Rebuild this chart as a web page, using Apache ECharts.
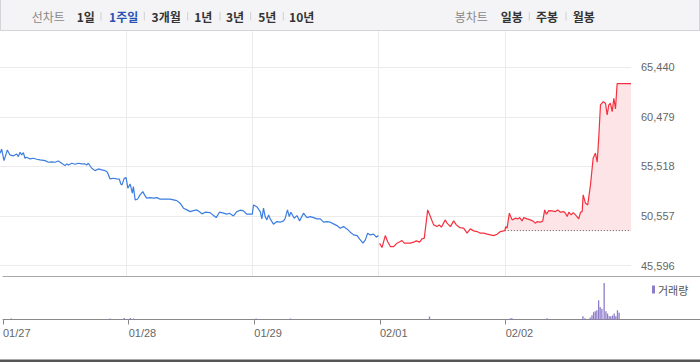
<!DOCTYPE html>
<html><head><meta charset="utf-8">
<script src="https://cdn.jsdelivr.net/npm/echarts@6/dist/echarts.min.js"></script>
<style>html,body{margin:0;padding:0;background:#fff}#c{width:700px;height:362px}</style>
</head><body><div id="c"></div>
<script>
// ---- data ----
const dateLabels = ['01/27', '01/28', '01/29', '02/01', '02/02'];
const priceTicks = [45596, 50557, 55518, 60479, 65440];
const prevClose = 49100;

// days 1-3 (blue), time in trading-day units
const blueTimes = [0.000,0.013,0.032,0.058,0.079,0.105,0.132,0.145,0.159,0.172,0.185,0.198,0.212,0.238,0.264,0.291,0.317,0.357,0.383,0.410,0.436,0.462,0.489,0.515,0.529,0.542,0.569,0.595,0.621,0.648,0.674,0.688,0.700,0.727,0.753,0.780,0.806,0.833,0.851,0.872,0.898,0.925,0.946,0.957,0.967,0.983,0.999,
1.013,1.031,1.049,1.057,1.071,1.089,1.110,1.132,1.150,1.163,1.190,1.216,1.243,1.269,1.308,1.348,1.401,1.427,1.454,1.481,1.507,1.533,1.560,1.586,1.600,1.626,1.665,1.692,1.713,1.739,1.771,1.798,1.818,1.850,1.877,1.903,1.929,1.956,1.983,1.999,
2.009,2.036,2.062,2.075,2.088,2.101,2.115,2.128,2.141,2.167,2.194,2.220,2.247,2.260,2.278,2.292,2.305,2.331,2.353,2.374,2.405,2.432,2.458,2.485,2.511,2.538,2.564,2.591,2.617,2.643,2.670,2.696,2.722,2.749,2.776,2.802,2.829,2.855,2.876,2.895,2.913,2.934,2.960,2.982,2.999];
const bluePrices = [56840,57240,56100,57170,56670,56570,56770,56500,56940,56670,56900,56340,56440,56270,56340,56240,56170,56100,55940,55970,55940,56070,55840,55600,55770,55670,55840,55740,55840,55770,55770,55670,55840,55340,55100,55270,55170,55100,54940,54270,54340,54270,54240,53770,53670,54300,54400,
53340,53770,52840,53500,52170,52240,52670,53000,52570,52340,52400,52340,52400,52240,52240,52240,52100,51840,51340,51170,51000,51100,51170,50940,50770,50940,50900,50600,50400,50940,50840,50740,50840,50570,51000,51140,51070,50740,50740,50740,
51670,51470,51000,50270,51340,50500,50170,50670,50270,49740,50000,49940,50070,50340,51170,50500,50940,50340,50600,50070,50840,50400,50500,50400,50270,50270,49940,50000,49940,49770,49600,49340,49500,49270,48940,48670,48600,48170,47840,48170,48840,48670,48740,48440,48600];

// day 4 (red)
const redTimes = [3.008,3.027,3.053,3.071,3.093,3.119,3.146,3.172,3.185,3.204,3.225,3.251,3.278,3.299,3.325,3.344,3.362,3.389,3.410,3.436,3.463,3.481,3.497,3.529,3.542,3.569,3.595,3.616,3.642,3.674,3.701,3.727,3.753,3.780,3.806,3.833,3.860,3.886,3.912,3.939,3.965,4.000];
const redPrices = [47840,47400,48600,48000,47500,47500,47840,48000,48100,47840,47840,47840,47940,48070,47940,48270,48340,51170,50500,49670,49500,49670,49440,50170,49840,49500,50070,49670,49400,49340,48840,49270,49070,49000,48840,48840,48740,48670,48600,48740,49000,49100];

// day 5 (today, red with fill)
const todayTimes = [4.000,4.007,4.018,4.036,4.058,4.084,4.102,4.118,4.137,4.150,4.177,4.203,4.229,4.243,4.256,4.282,4.301,4.316,4.330,4.348,4.375,4.401,4.420,4.441,4.467,4.481,4.494,4.507,4.526,4.542,4.560,4.586,4.600,4.613,4.621,4.639,4.657,4.679,4.700,4.718,4.732,4.745,4.758,4.780,4.798,4.811,4.824,4.837,4.851,4.864,4.877,4.890,5.000];
const todayPrices = [49100,49500,49340,50840,50170,50340,50270,50400,50070,50400,50270,50170,50000,49840,50000,49940,50070,51170,50740,51100,51070,51000,51170,50940,51000,50840,50500,50940,50670,50900,50670,50270,50940,51000,52670,51840,51670,53670,56340,56840,55940,58500,61670,62000,61840,60670,61670,61840,61000,62340,61270,63800,63800];

// volume
const volTimes = [0.066,0.851,0.965,1.013,1.039,2.014,2.286,3.394,4.039,4.050,4.330,4.615,4.631,4.673,4.687,4.700,4.713,4.726,4.740,4.752,4.766,4.784,4.798,4.811,4.824,4.837,4.851,4.864,4.877,4.890,4.903];
const volValues = [10,10,15,15,10,10,10,30,12,12,12,33,12,20,43,73,83,93,193,127,107,367,83,60,33,33,40,60,33,93,67];

// ---- chart ----
const zip = (ts, vs) => ts.map((t, i) => [t, vs[i]]);
const dayCount = dateLabels.length;
const plotRight = 69;
const volAxisMax = dayCount * 700 / (700 - plotRight);
const FONT = "'Liberation Sans','Noto Sans CJK KR',sans-serif";
const KFONT = "'Noto Sans CJK KR',sans-serif";

const tabItems = [
  {t:'선차트', x:48.3, c:'#888', b:false},
  {t:'1일', x:85.8, c:'#333', b:true},
  {t:'1주일', x:123.7, c:'#2a52b5', b:true},
  {t:'3개월', x:166.2, c:'#333', b:true},
  {t:'1년', x:203.3, c:'#333', b:true},
  {t:'3년', x:235, c:'#333', b:true},
  {t:'5년', x:267.3, c:'#333', b:true},
  {t:'10년', x:301.7, c:'#333', b:true},
  {t:'봉차트', x:471.3, c:'#888', b:false},
  {t:'일봉', x:511.7, c:'#333', b:true},
  {t:'주봉', x:547, c:'#333', b:true},
  {t:'월봉', x:583.7, c:'#333', b:true}
];
const sepXs = [101, 144.3, 187.7, 220, 250.7, 283.3, 529.3, 566];

const graphics = [
  {type:'rect', shape:{x:0.5, y:-1, width:699, height:31.5}, style:{fill:'#f4f4f6', stroke:'#d3d3d8', lineWidth:1}, silent:true},
  {type:'rect', shape:{x:0, y:359.5, width:700, height:2.5}, style:{fill:'#555'}, silent:true}
];
tabItems.forEach(it => graphics.push({
  type:'text', x: it.x, y: 16, silent:true,
  style:{text: it.t, fill: it.c, font: (it.b ? 'bold ' : '') + '12px ' + KFONT, textAlign:'center', textVerticalAlign:'middle'}
}));
sepXs.forEach(x => graphics.push({
  type:'line', silent:true, shape:{x1:x, y1:12, x2:x, y2:20.5}, style:{stroke:'#d0d0d0', lineWidth:1}
}));

const chart = echarts.init(document.getElementById('c'), null, {renderer:'svg'});
chart.setOption({
  animation: false,
  backgroundColor: '#fff',
  textStyle: {fontFamily: FONT},
  graphic: {elements: graphics},
  legend: {
    data: ['거래량'], left: 652, top: 284, padding: 0, icon: 'rect', itemWidth: 3, itemHeight: 8,
    itemGap: 4, textStyle: {fontSize: 11, color: '#555', fontFamily: KFONT, padding: [0,0,0,-2]}, selectedMode: false
  },
  grid: [
    {left: 0, right: plotRight, top: 31, bottom: 86},
    {left: 0, right: plotRight, top: 67.3, height: 198.3},
    {left: 0, right: 0, top: 276.5, bottom: 42.5}
  ],
  xAxis: [
    {gridIndex:0, type:'value', min:0, max:dayCount, interval:1, axisLine:{show:false}, axisTick:{show:false}, axisLabel:{show:false},
     splitLine:{show:true, showMinLine:false, showMaxLine:false, lineStyle:{color:'#ebebeb'}}},
    {gridIndex:1, type:'value', min:0, max:dayCount, show:false, splitLine:{show:false}},
    {gridIndex:2, type:'value', min:0, max:volAxisMax, position:'bottom',
     axisLine:{show:true, lineStyle:{color:'#888'}},
     axisTick:{show:true, length:5, lineStyle:{color:'#888'}, customValues: dateLabels.map((d,i)=>i)},
     axisLabel:{show:true, customValues: dateLabels.map((d,i)=>i), formatter: v => dateLabels[Math.round(v)] || '', align:'left', color:'#666', fontSize:11, margin:8},
     splitLine:{show:false}},
    {gridIndex:2, type:'value', min:0, max:volAxisMax, position:'top',
     axisLine:{show:true, lineStyle:{color:'#a8a8a8'}}, axisTick:{show:false}, axisLabel:{show:false}, splitLine:{show:false}}
  ],
  yAxis: [
    {gridIndex:0, type:'value', min:0, max:1, show:false, splitLine:{show:false}},
    {gridIndex:1, type:'value', position:'right', min: priceTicks[0], max: priceTicks[priceTicks.length-1],
     interval: priceTicks[1]-priceTicks[0],
     axisLine:{show:false}, axisTick:{show:false},
     axisLabel:{color:'#666', fontSize:11, margin:10, formatter: v => Math.round(v).toLocaleString('en-US')},
     splitLine:{show:true, lineStyle:{color:'#ebebeb'}}},
    {gridIndex:2, type:'value', min:0, max:433, show:false, splitLine:{show:false}}
  ],
  series: [
    {name:'blue', type:'line', xAxisIndex:1, yAxisIndex:1, data: zip(blueTimes, bluePrices), showSymbol:false,
     lineStyle:{color:'#3b7de0', width:1.2}, z:3},
    {name:'red', type:'line', xAxisIndex:1, yAxisIndex:1, data: zip(redTimes, redPrices), showSymbol:false,
     lineStyle:{color:'#f5303e', width:1.2}, z:3},
    {name:'today', type:'line', xAxisIndex:1, yAxisIndex:1, data: zip(todayTimes, todayPrices), showSymbol:false,
     lineStyle:{color:'#f5303e', width:1.2}, areaStyle:{color:'#fde4e7', opacity:1, origin: prevClose}, z:3},
    {name:'prev', type:'line', xAxisIndex:1, yAxisIndex:1,
     data: [[todayTimes[0], prevClose], [todayTimes[todayTimes.length-1], prevClose]], showSymbol:false,
     lineStyle:{color:'#555', width:1, type:[1,2]}, z:4},
    {name:'거래량', type:'bar', xAxisIndex:2, yAxisIndex:2, data: zip(volTimes, volValues), barWidth:1.3,
     itemStyle:{color:'#8d7cc8'}}
  ]
});
</script></body></html>
